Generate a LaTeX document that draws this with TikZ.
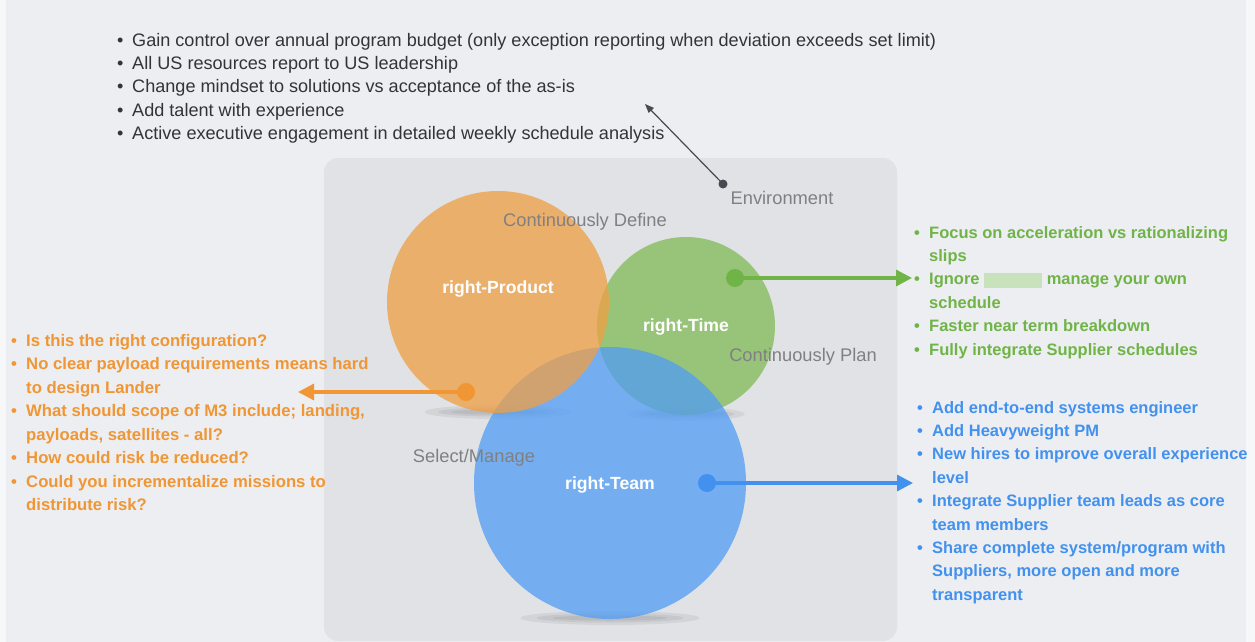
\documentclass[tikz,border=0pt]{standalone}
\usepackage{fontspec}
\setmainfont{Liberation Sans}
\usetikzlibrary{arrows.meta}
\definecolor{Backdrop}{RGB}{236,238,241}
\definecolor{Panel}{RGB}{224,226,229}
\definecolor{Edge}{RGB}{246,247,248}
\definecolor{TopInk}{RGB}{52,52,56}
\definecolor{LabelGray}{RGB}{128,128,130}
\definecolor{EnvInk}{RGB}{72,74,82}
\definecolor{POrange}{RGB}{240,159,68}
\definecolor{TGreen}{RGB}{128,186,86}
\definecolor{MBlue}{RGB}{81,157,246}
\definecolor{OrangeInk}{RGB}{240,150,52}
\definecolor{GreenInk}{RGB}{112,180,72}
\definecolor{BlueInk}{RGB}{66,145,238}
\definecolor{BlurGreen}{RGB}{200,226,188}
\newcommand{\itm}{\makebox[15pt][l]{•}}
\newcommand{\ind}{\hspace*{15pt}}
\newcommand{\blob}{\textcolor{BlurGreen}{\rule[-3pt]{58pt}{15pt}}}
\NewDocumentCommand{\Shadow}{O{(0,0)} m}{
    \begin{scope}[shift={#1}]
    \foreach \w/\h in {0.66/7, 0.54/4.5, 0.42/2.5}
        \fill[black, opacity=0.06] (0,#2-1) ellipse ({\w*#2} and \h);
    \end{scope}
}
\NewDocumentCommand{\Petal}{O{(0,0)} m m}{
    \begin{scope}[shift={#1}]
    \fill[#3, opacity=0.75] (0,0) circle (#2);
    \end{scope}
}
\newcommand{\Canvas}{
\useasboundingbox (0,0) rectangle (1255,642);

\coordinate (product) at (498,302);
\coordinate (time)    at (686,326);
\coordinate (team)    at (610,483);

\coordinate (env-dot)     at (723,184);
\coordinate (env-tip)     at (645,104);
\coordinate (time-dot)    at (735,278);
\coordinate (time-tip)    at (912,278);
\coordinate (product-dot) at (466,392);
\coordinate (product-tip) at (298,392);
\coordinate (team-dot)    at (707,483);
\coordinate (team-tip)    at (913,483);
}

\begin{document}
\begin{tikzpicture}[x=1pt, y=-1pt,
    list/.style={anchor=north west, inner sep=0pt, align=left},
    tag/.style={text=LabelGray, font=\fontsize{18.3}{22}\selectfont, inner sep=0pt},
    petal/.style={text=white, font=\bfseries\fontsize{17.6}{20}\selectfont, inner sep=0pt}]
\Canvas
% backdrop and panel
\fill[Backdrop] (0,0) rectangle (1255,642);
\fill[Edge] (0,0) rectangle (6,642);
\fill[Edge] (1246,0) rectangle (1255,642);
\fill[Panel, rounded corners=14pt] (324,158) rectangle (897,641);

\Shadow[(product)]{111}
\Shadow[(time)]{89}
\Shadow[(team)]{136}

\Petal[(time)]{89}{TGreen}
\Petal[(team)]{136}{MBlue}
\Petal[(product)]{111}{POrange}

\node[petal] (product-label) at (498,289) {right-Product};
\node[petal] (time-label) at (686,327) {right-Time};
\node[petal] (team-label) at (610,485) {right-Team};

\node[tag] (define) at (585,222) {Continuously Define};
\node[tag] (env) at (782,198) {Environment};
\node[tag] (plan) at (803,357) {Continuously Plan};
\node[tag] (manage) at (474,458) {Select/Manage};

% pointers
\draw[EnvInk, line width=1.2pt, -{Triangle[length=9pt,width=7pt]}] (env-dot) -- (env-tip);
\fill[EnvInk] (env-dot) circle (4.5);
\draw[GreenInk, line width=3.2pt, -{Triangle[length=16pt,width=16pt]}] (time-dot) -- (time-tip);
\fill[GreenInk] (time-dot) circle (9);
\draw[OrangeInk, line width=3.2pt, -{Triangle[length=16pt,width=16pt]}] (product-dot) -- (product-tip);
\fill[OrangeInk] (product-dot) circle (9);
\draw[BlueInk, line width=3.2pt, -{Triangle[length=16pt,width=16pt]}] (team-dot) -- (team-tip);
\fill[BlueInk] (team-dot) circle (9);

\node[list, text=TopInk, font=\fontsize{18.1}{23.4}\selectfont] (aims) at (117,29.6) {%
\strut\itm Gain control over annual program budget (only exception reporting when deviation exceeds set limit)\\
\itm All US resources report to US leadership\\
\itm Change mindset to solutions vs acceptance of the as-is\\
\itm Add talent with experience\\
\itm Active executive engagement in detailed weekly schedule analysis};

\node[list, text=GreenInk, font=\bfseries\fontsize{16.5}{23.4}\selectfont] (time-notes) at (914,221.6) {%
\strut\itm Focus on acceleration vs rationalizing\\
\ind slips\\
\itm Ignore \blob{} manage your own\\
\ind schedule\\
\itm Faster near term breakdown\\
\itm Fully integrate Supplier schedules};

\node[list, text=BlueInk, font=\bfseries\fontsize{16.5}{23.4}\selectfont] (team-notes) at (917,396.6) {%
\strut\itm Add end-to-end systems engineer\\
\itm Add Heavyweight PM\\
\itm New hires to improve overall experience\\
\ind level\\
\itm Integrate Supplier team leads as core\\
\ind team members\\
\itm Share complete system/program with\\
\ind Suppliers, more open and more\\
\ind transparent};

\node[list, text=OrangeInk, font=\bfseries\fontsize{16.7}{23.5}\selectfont] (product-notes) at (11,329.6) {%
\strut\itm Is this the right configuration?\\
\itm No clear payload requirements means hard\\
\ind to design Lander\\
\itm What should scope of M3 include; landing,\\
\ind payloads, satellites - all?\\
\itm How could risk be reduced?\\
\itm Could you incrementalize missions to\\
\ind distribute risk?};
\end{tikzpicture}
\end{document}
